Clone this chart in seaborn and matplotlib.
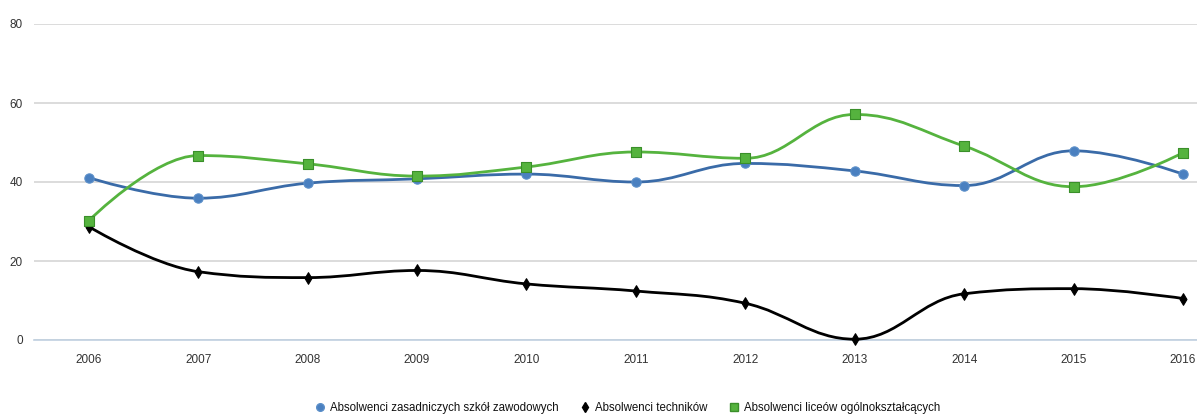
import numpy as np
import pandas as pd
import seaborn as sns
import matplotlib.pyplot as plt
from matplotlib.path import Path
from matplotlib.patches import PathPatch
from matplotlib.lines import Line2D

##### Data #####
years = ['2006', '2007', '2008', '2009', '2010', '2011', '2012', '2013', '2014', '2015', '2016']
zasadnicze = [41.1, 35.9, 39.7, 40.8, 42.0, 40.0, 44.7, 42.8, 39.1, 47.9, 42.0]
technicy = [28.7, 17.3, 15.8, 17.6, 14.2, 12.4, 9.3, 0.2, 11.7, 13.0, 10.5]
licea = [30.2, 46.7, 44.6, 41.5, 43.8, 47.6, 46.0, 57.1, 49.1, 38.8, 47.4]

labels = ['Absolwenci zasadniczych szkół zawodowych', 'Absolwenci techników', 'Absolwenci liceów ogólnokształcących']
colors = ['#3a6ba8', '#000000', '#55b33e']
markers = ['o', 'd', 's']

sns.set_style('white')
plt.rcParams['font.family'] = ['Liberation Sans', 'DejaVu Sans']


def spline_path(xs, ys):
	# highcharts-like spline (smoothing 1.5)
	n = len(xs)
	left, right = [None] * n, [None] * n
	for i in range(1, n - 1):
		lx = (1.5 * xs[i] + xs[i - 1]) / 2.5
		ly = (1.5 * ys[i] + ys[i - 1]) / 2.5
		rx = (1.5 * xs[i] + xs[i + 1]) / 2.5
		ry = (1.5 * ys[i] + ys[i + 1]) / 2.5
		corr = 0
		if rx != lx:
			corr = ((ry - ly) * (rx - xs[i])) / (rx - lx) + ys[i] - ry
		ly += corr
		ry += corr
		if ly > ys[i - 1] and ly > ys[i]:
			ly = max(ys[i - 1], ys[i]); ry = 2 * ys[i] - ly
		elif ly < ys[i - 1] and ly < ys[i]:
			ly = min(ys[i - 1], ys[i]); ry = 2 * ys[i] - ly
		if ry > ys[i + 1] and ry > ys[i]:
			ry = max(ys[i + 1], ys[i]); ly = 2 * ys[i] - ry
		elif ry < ys[i + 1] and ry < ys[i]:
			ry = min(ys[i + 1], ys[i]); ly = 2 * ys[i] - ry
		left[i], right[i] = (lx, ly), (rx, ry)
	verts, codes = [(xs[0], ys[0])], [Path.MOVETO]
	for i in range(n - 1):
		c1 = right[i] if right[i] is not None else (xs[i], ys[i])
		c2 = left[i + 1] if left[i + 1] is not None else (xs[i + 1], ys[i + 1])
		verts += [c1, c2, (xs[i + 1], ys[i + 1])]
		codes += [Path.CURVE4] * 3
	return Path(verts, codes)


fig = plt.figure(figsize=(11.97, 4.16), dpi=100)
ax = fig.add_axes([34 / 1197, 1 - 340 / 416, 1 - 34 / 1197, (340 - 24) / 416])

df = pd.DataFrame({'year': years * 3,
				   'value': zasadnicze + technicy + licea,
				   'series': sum([[l] * len(years) for l in labels], [])})
df['x'] = df['year'].map({y: i for i, y in enumerate(years)})

for lab, col in zip(labels, colors):
	sub = df[df['series'] == lab]
	ax.add_patch(PathPatch(spline_path(sub['x'].tolist(), sub['value'].tolist()), fill=False,
						   edgecolor=col, lw=2.0, clip_on=False, zorder=3, capstyle='round'))

edge = {labels[0]: '#5b8fc9', labels[1]: '#000000', labels[2]: '#3a8f2a'}
for lab, col, m in zip(labels, colors, markers):
	sub = df[df['series'] == lab]
	sns.scatterplot(data=sub, x='x', y='value', ax=ax, color=col if m != 'o' else '#4a80c0',
					marker=m, s=45 if m != 'd' else 35, edgecolor=edge[lab], linewidth=0.8,
					zorder=4, clip_on=False, legend=False)

ax.set_xlim(-0.5, (1197 - 89) / 109.4)
ax.set_ylim(0, 80)
ax.set_yticks([0, 20, 40, 60, 80])
ax.set_xticks(range(len(years)))
ax.set_xticklabels(years)
ax.set_xticks(np.arange(-0.5, len(years) - 0.5, 1), minor=True)
ax.yaxis.grid(True, color='#d9d9d9', lw=1.3)
ax.set_axisbelow(True)
for s in ['top', 'right', 'left']:
	ax.spines[s].set_visible(False)
ax.spines['bottom'].set_color('#c0d0e0')
ax.spines['bottom'].set_linewidth(1.2)
ax.tick_params(axis='x', which='major', length=0, pad=10, labelsize=8.5, labelcolor='#333333')
ax.tick_params(axis='x', which='minor', length=8, width=1, color='#c0d0e0', direction='out')
ax.tick_params(axis='y', length=0, pad=8, labelsize=8.5, labelcolor='#333333')
ax.set_xlabel('')
ax.set_ylabel('')

handles = [Line2D([], [], ls='none', marker='o', color='#4a80c0', markeredgecolor='#5b8fc9', markersize=5.5),
		   Line2D([], [], ls='none', marker='d', color='#000000', markersize=5.5),
		   Line2D([], [], ls='none', marker='s', color='#55b33e', markeredgecolor='#3a8f2a', markersize=5.5)]
leg = fig.legend(handles, labels, loc='center', bbox_to_anchor=(0.524, 0.02), ncol=3, frameon=False,
				 fontsize=8.3, handletextpad=0.37, columnspacing=1.8, handlelength=1.0)
for t in leg.get_texts():
	t.set_color('#111111')

fig.savefig('out.png', dpi=100)
